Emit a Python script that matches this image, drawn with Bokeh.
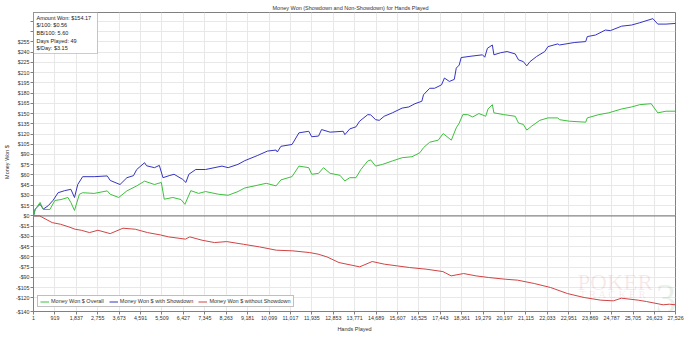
from bokeh.plotting import figure
from bokeh.models import (Range1d, FixedTicker, CustomJSTickFormatter, NumeralTickFormatter,
                          Label, Legend, LegendItem, Span, BoxAnnotation)
from bokeh.embed import file_html
from bokeh.resources import INLINE

FONT = "Liberation Sans"
FS = "5.5px"

# ---------------- data ----------------
hands_sd = [1, 73, 283, 423, 633, 844, 1055, 1337, 1603, 1759, 1898, 2109, 2602, 3162, 3289,
            3710, 4006, 4288, 4427, 4764, 4848, 5185, 5396, 5552, 5818, 6028, 6395, 6534, 6661,
            6956, 7377, 8081, 8347, 8768, 9063, 9611, 10033, 10400, 10454, 10610, 11086, 11381,
            11803, 11929, 12224, 12351, 12718, 13279, 13350, 13561, 13827, 13983, 14333, 14459,
            14670, 14826, 15036, 15386, 15808, 16090, 16356, 16651, 16722, 16988, 17198, 17494,
            17620, 17831, 18042, 18126, 18253, 18337, 18759, 19252, 19349, 19463, 19674, 19741,
            20023, 20306, 20655, 20795, 21005, 21149, 21287, 21569, 21919, 22058, 22480, 22551,
            22833, 23183, 23676, 23744, 24098, 24520, 24730, 25219, 25641, 25995, 26556, 26766,
            27116, 27526]
won_sd = [0, 10, 17, 10, 15, 23, 34, 37, 39, 27, 46, 57.5, 57.5, 58.6, 52,
          46, 56, 59, 68, 78, 73.5, 70.7, 74, 56, 59, 61, 53.6, 49, 61,
          68, 68, 73, 70.7, 75.5, 81, 88.6, 95, 96.5, 93.6, 102, 104.7, 121.7,
          124, 116, 117, 126.5, 122.7, 124, 119, 127.5, 130.5, 138.8, 148.4, 148,
          141, 140, 146, 151, 158, 159.6, 164.4, 168, 177.5, 187, 187, 192,
          202, 197, 200, 216.5, 221, 232, 234, 236, 232.5, 245.6, 250.4, 236,
          239, 240.8, 237.3, 228.6, 226, 219.8, 226, 233.5, 240.8, 248, 252, 250.4,
          252, 254, 255.4, 262.7, 265, 272.3, 271.4, 278, 279.6, 283, 289, 281,
          281, 282]

hands_overall = [1, 73, 283, 423, 705, 916, 1181, 1476, 1603, 1759, 1969, 2109, 2602, 3162,
                 3289, 3655, 4006, 4427, 4764, 5185, 5481, 5607, 5974, 6324, 6492, 6745, 7082,
                 7377, 7925, 8347, 8768, 9063, 9611, 9978, 10400, 10610, 11086, 11381, 11803,
                 11929, 12224, 12435, 12718, 13140, 13350, 13561, 13827, 14037, 14333, 14459,
                 14670, 14964, 15386, 15808, 16229, 16567, 16722, 16988, 17354, 17565, 17915,
                 18126, 18253, 18409, 18619, 18830, 19096, 19391, 19488, 19674, 19741, 20163,
                 20655, 20795, 21005, 21149, 21359, 21709, 22058, 22480, 22551, 22973, 23676,
                 23744, 24237, 24659, 25219, 25641, 25995, 26484, 26766, 27116, 27526]
won_overall = [0, 9.5, 19.7, 9.5, 9.5, 22.6, 24, 27, 19.7, 8, 31.8, 34, 33, 36.7,
               31.8, 27, 36.7, 44, 51, 46, 49, 24.5, 27, 24, 17, 37, 33,
               35.7, 31.8, 30.3, 35.7, 41, 45, 47.8, 44, 52.8, 57.6, 73, 70.7,
               61, 62.4, 70.7, 62.4, 59.5, 51.3, 56, 56, 68, 80.5, 82,
               73, 75.5, 80.5, 85.3, 86.7, 92.6, 100, 108, 111, 120.7, 111,
               129, 136, 148.4, 148.4, 145, 150, 146, 156.7, 163, 151, 148.4,
               146, 136, 134, 125.7, 131.5, 140, 143.6, 143.6, 141, 138.8, 137.3,
               143.6, 148.4, 151, 156.7, 159.6, 163, 164.4, 151, 153.4, 153.4]

hands_nsd = [1, 267, 802, 1160, 1518, 1784, 2049, 2403, 2762, 3289, 3837, 4368, 4891, 5438,
             5792, 6513, 6703, 7228, 7757, 8288, 8999, 9696, 10412, 11128, 11845, 12203, 12583,
             13097, 13987, 14522, 15049, 15597, 16124, 16836, 17553, 17907, 18443, 18970, 19518,
             20225, 20757, 21470, 22174, 22890, 23607, 24324, 24859, 25209, 25926, 26284, 26996,
             27262, 27526]
won_nsd = [0, 0, -9.8, -12.2, -16.1, -19.5, -21, -24.4, -21, -25.9, -18, -19.5, -24.4, -27.8,
           -30.7, -34, -30.7, -35.6, -39, -37.6, -41.5, -45.4, -50.2, -51.2, -53.7, -56, -60,
           -68.3, -74.6, -66.8, -70.7, -73.2, -75.6, -78, -81.5, -87.8, -84.4, -87.8, -90.2,
           -92.7, -94.1, -99, -104.9, -113.7, -119.5, -123.4, -124.4, -120.5, -123.4, -125.4, -130.2,
           -129.3, -130.2]

x_ticks = [1, 919, 1837, 2755, 3673, 4591, 5509, 6427, 7345, 8263, 9181, 10099, 11017, 11935,
           12853, 13771, 14689, 15607, 16525, 17443, 18361, 19279, 20197, 21115, 22033, 22951,
           23869, 24787, 25705, 26623, 27526]
y_ticks = [-140, -120, -105, -90, -75, -60, -45, -30, -15, 0, 15, 30, 45, 60, 75, 90, 105, 120,
           135, 150, 165, 180, 195, 210, 225, 240, 255, 270, 285]
y_hidden_labels = [270, 285]   # covered by the info box in the original

series_names = ["Money Won $ Overall", "Money Won $ with Showdown", "Money Won $ without Showdown"]
info_lines = ["Amount Won: $154.17", "$/100: $0.56", "BB/100: 5.60", "Days Played: 49", "$/Day: $3.15"]
title_text = "Money Won (Showdown and Non-Showdown) for Hands Played"
x_title = "Hands Played"
y_title = "Money Won $"

GREEN = "#3cc03c"
BLUE = "#3434c4"
RED = "#d04444"
TXT = "#333333"

# ---------------- figure ----------------
W, H = 684, 345
ML, MR, MT, MB = 30, 9, 12, 34
Y0, Y1 = -140, 298

p = figure(width=W, height=H, output_backend="svg", toolbar_location=None,
           x_range=Range1d(1, 27526), y_range=Range1d(Y0, Y1),
           min_border_left=ML, min_border_right=MR, min_border_top=MT, min_border_bottom=MB,
           background_fill_color="white", border_fill_color="white")
p.outline_line_color = "#808080"
p.outline_line_width = 1

# title (above)
p.title.text = title_text
p.title.text_font = FONT
p.title.text_font_size = FS
p.title.text_font_style = "normal"
p.title.text_color = TXT
p.title.align = "left"
p.title.offset = 239
p.title.standoff = 3

xt = FixedTicker(ticks=x_ticks)
yt = FixedTicker(ticks=y_ticks)
p.xaxis.ticker = xt
p.yaxis.ticker = yt
p.xgrid.ticker = xt
p.ygrid.ticker = yt
p.xaxis.formatter = NumeralTickFormatter(format="0,0")
p.yaxis.formatter = CustomJSTickFormatter(code="return (tick < 0 ? '-$' : '$') + Math.abs(tick);")
p.yaxis.major_label_overrides = {v: "" for v in y_hidden_labels}
for ax in (p.xaxis[0], p.yaxis[0]):
    ax.major_label_text_font = FONT
    ax.major_label_text_font_size = "5.3px"
    ax.major_label_text_color = TXT
    ax.axis_line_color = "#808080"
    ax.major_tick_line_color = "#808080"
    ax.major_tick_out = 3
    ax.major_tick_in = 0
    ax.minor_tick_line_color = None
    ax.major_label_standoff = 1
    ax.axis_label_text_font = FONT
    ax.axis_label_text_font_size = FS
    ax.axis_label_text_font_style = "normal"
    ax.axis_label_text_color = TXT
p.yaxis.axis_label = y_title
p.yaxis.axis_label_standoff = 3
p.xaxis.axis_label = x_title
p.xaxis.axis_label_standoff = 3

for g in (p.xgrid[0], p.ygrid[0]):
    g.grid_line_color = "#e8e8e8"
    g.grid_line_width = 1

# watermark
p.add_layout(Label(x=544, y=29, x_units="screen", y_units="screen", text="POKER",
                   text_font="Liberation Serif", text_font_size="23px", text_color="#c05050",
                   text_alpha=0.13, text_baseline="alphabetic", level="underlay"))
p.add_layout(Label(x=546, y=18, x_units="screen", y_units="screen", text="T R A C K E R",
                   text_font="Liberation Serif", text_font_size="11px", text_color="#c05050",
                   text_alpha=0.13, text_baseline="alphabetic", level="underlay"))
p.add_layout(Label(x=622, y=13, x_units="screen", y_units="screen", text="3",
                   text_font="Liberation Serif", text_font_size="42px", text_color="#508a50",
                   text_alpha=0.13, text_baseline="alphabetic", level="underlay"))

p.add_layout(Span(location=0, dimension="width", line_color="#707070", line_width=1))

r_sd = p.line(hands_sd, won_sd, line_color=BLUE, line_width=1)
r_ov = p.line(hands_overall, won_overall, line_color=GREEN, line_width=1)
r_nsd = p.line(hands_nsd, won_nsd, line_color=RED, line_width=1)

legend = Legend(items=[LegendItem(label=series_names[0], renderers=[r_ov]),
                       LegendItem(label=series_names[1], renderers=[r_sd]),
                       LegendItem(label=series_names[2], renderers=[r_nsd])],
                location="bottom_left", orientation="horizontal",
                label_text_font=FONT, label_text_font_size=FS, label_text_color=TXT,
                glyph_width=9, glyph_height=5, label_height=5, label_standoff=2,
                spacing=5, padding=2, margin=4,
                border_line_color="#808080", border_line_width=1,
                background_fill_color="white", background_fill_alpha=1.0)
p.add_layout(legend)

# info box (top-left corner of the plot area); y in data units from the top of the range
PX = 0.6826   # pixels per dollar on the y axis (for box height in dollars)
box_h = 41
p.add_layout(BoxAnnotation(left=0, right=64, top=Y1, bottom=Y1 - box_h / PX,
                           left_units="screen", right_units="screen",
                           fill_color="white", fill_alpha=1.0,
                           line_color="#555555", line_width=1, level="overlay"))
for i, s in enumerate(info_lines):
    p.add_layout(Label(x=3, y=Y1 - (5 + 7.7 * i) / PX, x_units="screen", y_units="data", text=s,
                       text_font=FONT, text_font_size=FS, text_color="#222222",
                       text_align="left", text_baseline="middle", level="overlay"))

open("out.html", "w").write(file_html(p, INLINE))
